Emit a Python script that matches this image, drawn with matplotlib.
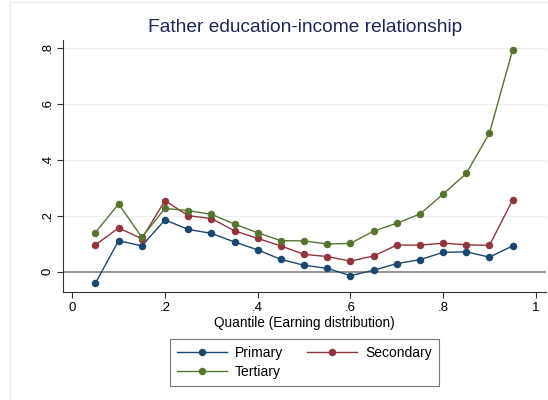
import numpy as np
import matplotlib.pyplot as plt
from matplotlib.lines import Line2D

plt.rcParams["font.family"] = ["Liberation Sans", "DejaVu Sans"]

# quantile-regression coefficients by father's education level
quantiles = [0.05, 0.10, 0.15, 0.20, 0.25, 0.30, 0.35, 0.40, 0.45, 0.50,
             0.55, 0.60, 0.65, 0.70, 0.75, 0.80, 0.85, 0.90, 0.95]
primary = [-0.041, 0.111, 0.092, 0.185, 0.151, 0.137, 0.106, 0.078, 0.044, 0.023,
           0.012, -0.014, 0.005, 0.029, 0.043, 0.069, 0.071, 0.052, 0.092]
secondary = [0.096, 0.156, 0.118, 0.254, 0.200, 0.190, 0.146, 0.119, 0.092, 0.062,
             0.054, 0.038, 0.056, 0.095, 0.095, 0.102, 0.096, 0.094, 0.256]
tertiary = [0.140, 0.242, 0.123, 0.226, 0.218, 0.205, 0.170, 0.139, 0.111, 0.110,
            0.099, 0.101, 0.145, 0.173, 0.206, 0.277, 0.351, 0.495, 0.792]

series = [("Primary", primary, "#1a476f"),
          ("Secondary", secondary, "#90353b"),
          ("Tertiary", tertiary, "#55752f")]

xticks = [0, 0.2, 0.4, 0.6, 0.8, 1.0]
xtick_labels = ["0", ".2", ".4", ".6", ".8", "1"]
yticks = [0, 0.2, 0.4, 0.6, 0.8]
ytick_labels = ["0", ".2", ".4", ".6", ".8"]

fig = plt.figure(figsize=(5.48, 4.0), dpi=100)
ax = fig.add_axes([63 / 548, 1 - 292 / 400, 483 / 548, 252 / 400])

# light frame around the graph region
fig.add_artist(Line2D([10 / 548, 10 / 548], [0, 1 - 2 / 400], transform=fig.transFigure,
                      color="#e6eeee", lw=1))
fig.add_artist(Line2D([10 / 548, 1], [1 - 2 / 400, 1 - 2 / 400], transform=fig.transFigure,
                      color="#e6eeee", lw=1))

for y in yticks[1:]:
    ax.axhline(y, color="#e8f0f0", lw=0.9, zorder=0)
ax.axhline(0, color="#8a8a8a", lw=1.3, zorder=1)

handles = {}
for name, vals, col in series:
    handles[name], = ax.plot(quantiles, vals, color=col, lw=1.0, marker="o", ms=5.4,
                             markeredgewidth=0, label=name, zorder=3)

ax.set_xlim(-0.020, 1.022)
ax.set_ylim(-0.0725, 0.8275)
ax.set_xticks(xticks)
ax.set_xticklabels(xtick_labels, fontsize=9.5)
ax.set_yticks(yticks)
ax.set_yticklabels(ytick_labels, fontsize=9.5, rotation=90, va="center")
ax.tick_params(length=4, width=0.8, color="#333333", pad=3)

for side in ["top", "right"]:
    ax.spines[side].set_visible(False)
for side in ["left", "bottom"]:
    ax.spines[side].set_color("#333333")
    ax.spines[side].set_linewidth(0.8)

ax.set_xlabel("Quantile (Earning distribution)", fontsize=9.8, labelpad=2)
fig.text(305 / 548, 1 - 27 / 400, "Father education-income relationship",
         ha="center", va="center", fontsize=13.8, color="#1c2755")

# row-wise order: Primary, Secondary / Tertiary
order = ["Primary", "Tertiary", "Secondary"]
leg = ax.legend([handles[k] for k in order], order,
                loc="upper center", bbox_to_anchor=(0.5, -0.158), ncol=2,
                fontsize=10, frameon=True, fancybox=False, edgecolor="#555555",
                handlelength=3.6, columnspacing=1.7, borderpad=0.5,
                labelspacing=0.35, handletextpad=0.6)
leg.get_frame().set_linewidth(0.8)

fig.savefig("out.png", dpi=100, facecolor="white")
